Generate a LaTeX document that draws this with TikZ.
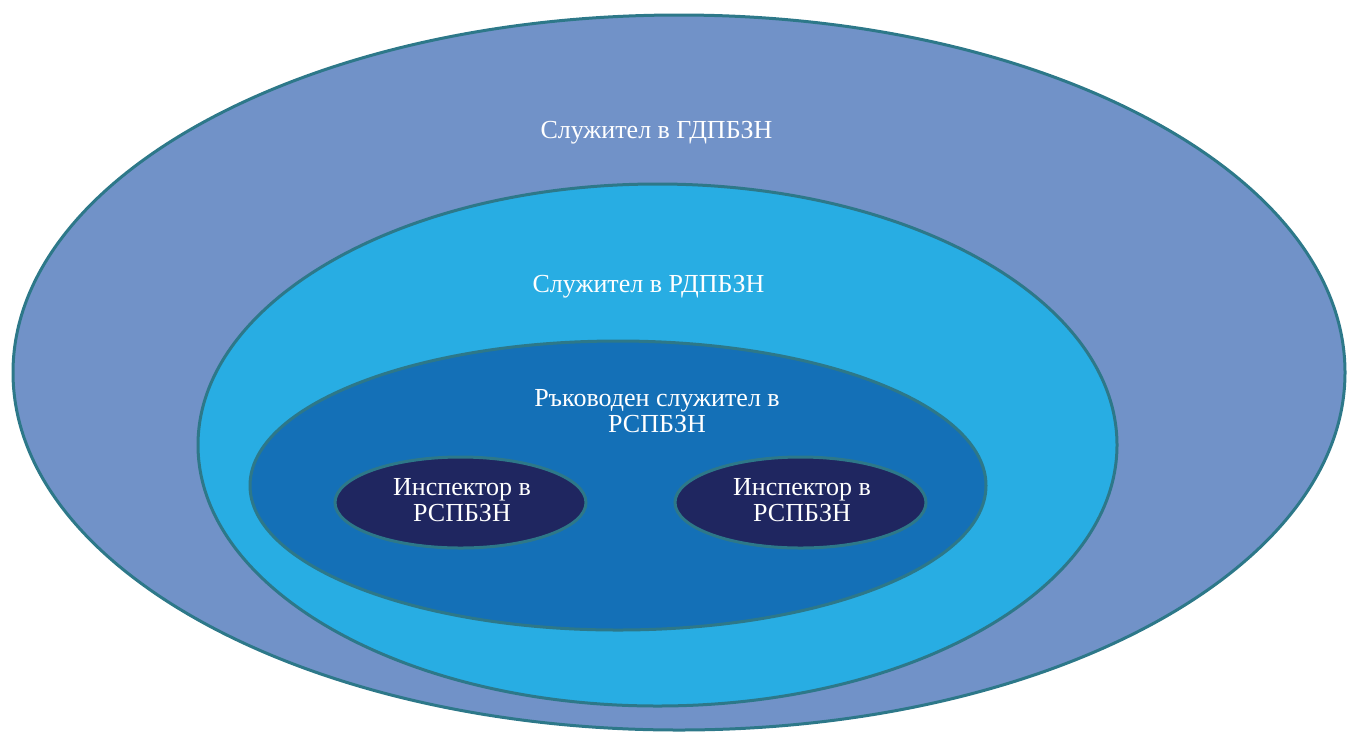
\documentclass[tikz,border=0pt]{standalone}
\usepackage{fontspec}
\setmainfont{Liberation Serif}
\usetikzlibrary{shapes.geometric}
\definecolor{edgec}{HTML}{2D7889}
\definecolor{fillA}{HTML}{7192C8}
\definecolor{fillB}{HTML}{28ADE3}
\definecolor{fillC}{HTML}{1470B7}
\definecolor{fillD}{HTML}{1F2660}
\tikzset{
  ring/.style={ellipse, draw=edgec, line width=3pt, inner sep=0pt, outer sep=0pt},
  lbl/.style={text=white, align=center, inner sep=0pt, font=\fontsize{26}{26.3}\selectfont},
  title/.style={lbl}
}
\begin{document}
\begin{tikzpicture}[x=1pt,y=-1pt]
\useasboundingbox (0,0) rectangle (1348,732);
\node[ring, fill=fillA, minimum width=1332pt, minimum height=715pt] (outer) at (679,372.5) {};
\node[ring, fill=fillB, minimum width=919pt, minimum height=522pt] (rd) at (657.5,445) {};
\node[ring, fill=fillC, minimum width=736pt, minimum height=289pt] (rs) at (618,485.5) {};
\node[ring, fill=fillD, minimum width=251pt, minimum height=91pt] (insA) at (460.5,502.5) {};
\node[ring, fill=fillD, minimum width=251pt, minimum height=91pt] (insB) at (800.5,502.5) {};
\node[title, anchor=base] (tGD) at (656.5,138) {Служител в ГДПБЗН};
\node[title, anchor=base] (tRD) at (648.5,292) {Служител в РДПБЗН};
\node[lbl] (tRS) at (657,411) {Ръководен служител в\\РСПБЗН};
\node[lbl] (tIA) at (462,500) {Инспектор в\\РСПБЗН};
\node[lbl] (tIB) at (802,500) {Инспектор в\\РСПБЗН};
\end{tikzpicture}
\end{document}
